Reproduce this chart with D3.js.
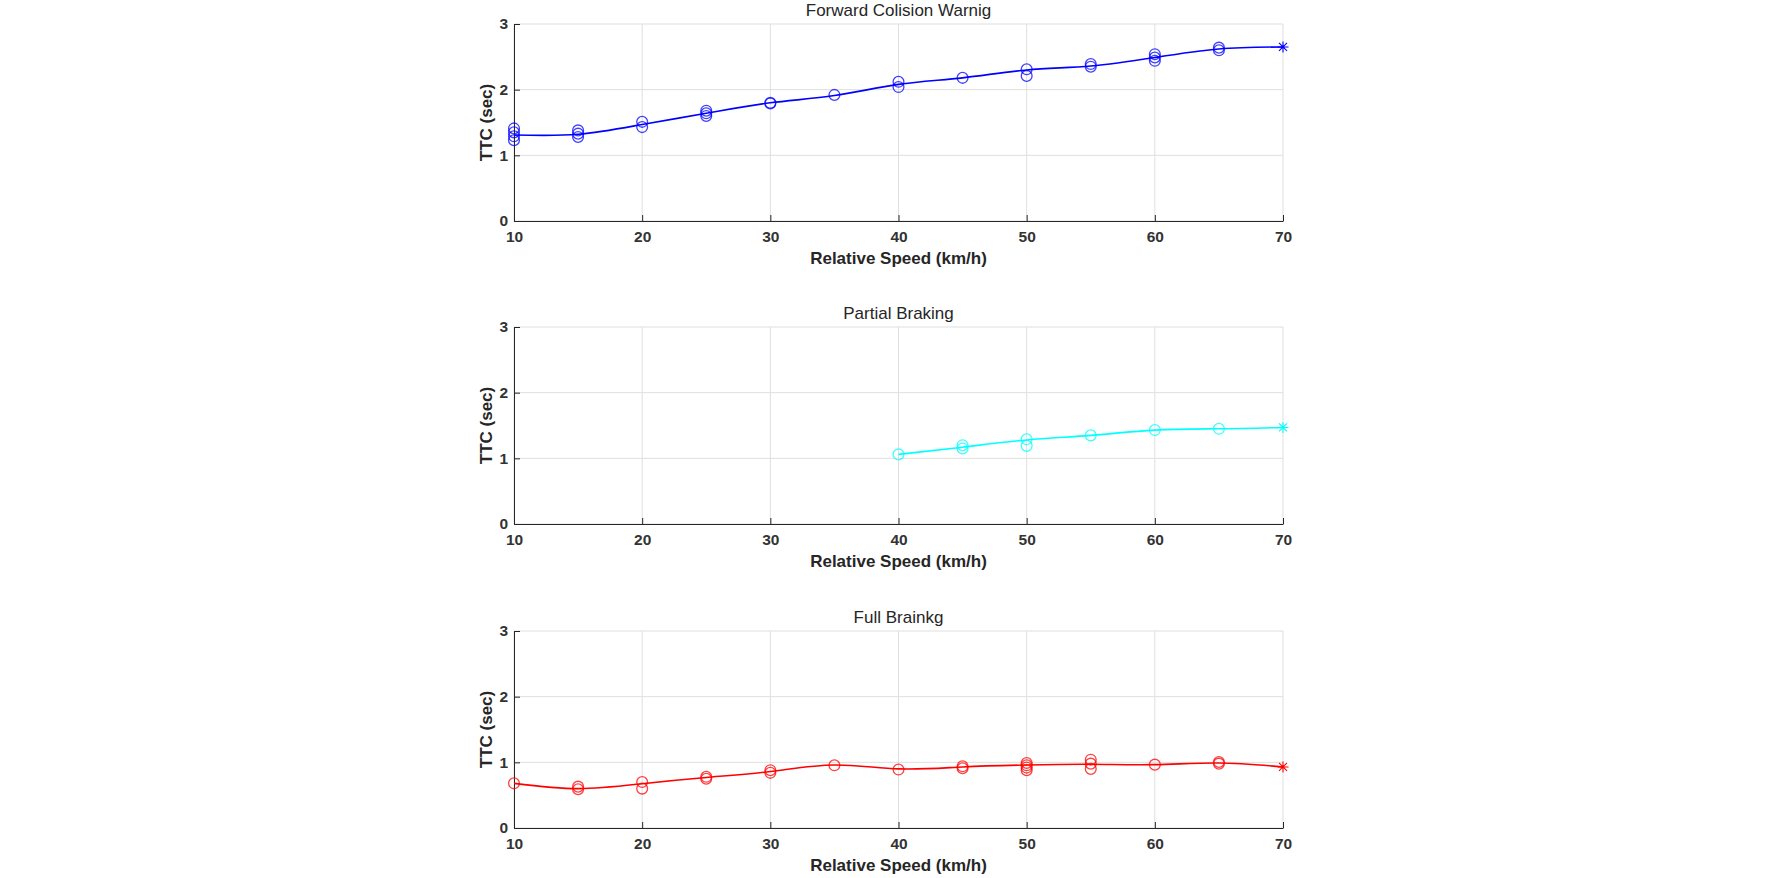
<!DOCTYPE html>
<html>
<head>
<meta charset="utf-8">
<script src="https://cdn.jsdelivr.net/npm/d3@7"></script>
<style>
  body { margin: 0; background: #fff; }
  svg { display: block; font-family: Arial, "Liberation Sans", sans-serif; }
  .grid line { stroke: #dfdfdf; stroke-width: 1; }
  .axis path, .axis line { stroke: #262626; }
  .axis text { fill: #333333; font-size: 15.5px; font-weight: bold; }
</style>
</head>
<body>
<div id="chart"></div>
<script>
// speeds (km/h) used in all three panels
var speeds = [10, 15, 20, 25, 30, 35, 40, 45, 50, 55, 60, 65, 70];
var pbSpeeds = [40, 45, 50, 55, 60, 65, 70];

// fitted curves (last point is the '*' marker)
var fcwCurve = [1.31, 1.32, 1.47, 1.64, 1.80, 1.91, 2.08, 2.18, 2.30, 2.36, 2.49, 2.62, 2.65];
var pbCurve = [1.06, 1.17, 1.28, 1.35, 1.43, 1.45, 1.47];
var fbCurve = [0.68, 0.60, 0.675, 0.77, 0.86, 0.96, 0.90, 0.93, 0.96, 0.97, 0.965, 0.99, 0.93];

// measured TTC samples, one list per speed (circles)
var fcwSamples = [
    [1.41, 1.35, 1.29, 1.23], [1.38, 1.33, 1.28], [1.51, 1.43], [1.68, 1.64, 1.60],
    [1.80, 1.79], [1.92], [2.12, 2.04], [2.18], [2.31, 2.21], [2.39, 2.35],
    [2.54, 2.49, 2.44], [2.64, 2.60]
];
var pbSamples = [
    [1.06], [1.20, 1.15], [1.29, 1.19], [1.35], [1.43], [1.45]
];
var fbSamples = [
    [0.68], [0.63, 0.59], [0.70, 0.60], [0.78, 0.75], [0.88, 0.84], [0.955],
    [0.89], [0.94, 0.91], [0.99, 0.955, 0.92, 0.88], [1.04, 0.98, 0.90],
    [0.965], [1.005, 0.98]
];

var xTicks = [10, 20, 30, 40, 50, 60, 70];
var yTicks = [0, 1, 2, 3];

var titles = ['Forward Colision Warnig', 'Partial Braking', 'Full Brainkg'];
var xLabel = 'Relative Speed (km/h)';
var yLabel = 'TTC (sec)';

dim = {
    'width': 1772,
    'height': 878,
    'left': 514,
    'right': 1283,
    'plotH': 197,
};
var panelTops = [24, 327, 631];

var panels = [
    {speeds: speeds, curve: fcwCurve, samples: fcwSamples, color: '#0000ff'},
    {speeds: pbSpeeds, curve: pbCurve, samples: pbSamples, color: '#00ffff'},
    {speeds: speeds, curve: fbCurve, samples: fbSamples, color: '#ff0000'},
];

var svg = d3.select('#chart').append('svg')
    .attr('width', dim.width)
    .attr('height', dim.height);

var xScale = d3.scaleLinear()
    .domain([10, 70])
    .range([dim.left, dim.right]);

function drawPanel(p, i) {
    var y0 = panelTops[i];
    var y1 = y0 + dim.plotH;
    var yScale = d3.scaleLinear().domain([0, 3]).range([y1, y0]);
    var g = svg.append('g');

    // grid
    var grid = g.append('g').attr('class', 'grid');
    grid.selectAll('.vx').data(xTicks).enter().append('line')
        .attr('x1', d => xScale(d)).attr('x2', d => xScale(d))
        .attr('y1', y0).attr('y2', y1);
    grid.selectAll('.hy').data(yTicks).enter().append('line')
        .attr('x1', dim.left).attr('x2', dim.right)
        .attr('y1', d => yScale(d)).attr('y2', d => yScale(d));

    // axes, ticks pointing inward like MATLAB
    var xAxis = d3.axisBottom(xScale).tickValues(xTicks).tickFormat(d3.format('d'))
        .tickSizeInner(-6).tickSizeOuter(0).tickPadding(10);
    var yAxis = d3.axisLeft(yScale).tickValues(yTicks).tickFormat(d3.format('d'))
        .tickSizeInner(-6).tickSizeOuter(0).tickPadding(6);
    g.append('g').attr('class', 'axis').attr('transform', `translate(0,${y1})`).call(xAxis);
    g.append('g').attr('class', 'axis').attr('transform', `translate(${dim.left},0)`).call(yAxis);

    // fitted curve
    var line = d3.line()
        .x((d, j) => xScale(p.speeds[j]))
        .y(d => yScale(d))
        .curve(d3.curveNatural);
    g.append('path')
        .datum(p.curve)
        .attr('d', line)
        .attr('fill', 'none')
        .attr('stroke', p.color)
        .attr('stroke-width', 1.6);

    // sample circles
    var pts = [];
    p.samples.forEach((vals, j) => vals.forEach(v => pts.push({x: p.speeds[j], y: v})));
    g.selectAll('circle').data(pts).enter().append('circle')
        .attr('cx', d => xScale(d.x))
        .attr('cy', d => yScale(d.y))
        .attr('r', 5.4)
        .attr('fill', 'none')
        .attr('stroke', p.color)
        .attr('stroke-opacity', 0.75)
        .attr('stroke-width', 1.3);

    // '*' marker at the last speed
    var n = p.curve.length - 1;
    var sx = xScale(p.speeds[n]), sy = yScale(p.curve[n]);
    var star = d3.path();
    var r = 5.5, r2 = 4;
    star.moveTo(sx - r, sy); star.lineTo(sx + r, sy);
    star.moveTo(sx, sy - r); star.lineTo(sx, sy + r);
    star.moveTo(sx - r2, sy - r2); star.lineTo(sx + r2, sy + r2);
    star.moveTo(sx - r2, sy + r2); star.lineTo(sx + r2, sy - r2);
    g.append('path').attr('d', star.toString())
        .attr('stroke', p.color).attr('stroke-width', 1.1).attr('fill', 'none');

    // texts
    g.append('text')
        .attr('x', (dim.left + dim.right) / 2)
        .attr('y', y0 - 8)
        .attr('text-anchor', 'middle')
        .attr('font-size', '17px')
        .attr('fill', '#262626')
        .text(titles[i]);
    g.append('text')
        .attr('x', (dim.left + dim.right) / 2)
        .attr('y', y1 + 43)
        .attr('text-anchor', 'middle')
        .attr('font-size', '17px')
        .attr('font-weight', 'bold')
        .attr('fill', '#262626')
        .text(xLabel);
    g.append('text')
        .attr('transform', `translate(492,${(y0 + y1) / 2}) rotate(-90)`)
        .attr('text-anchor', 'middle')
        .attr('font-size', '17px')
        .attr('font-weight', 'bold')
        .attr('fill', '#262626')
        .text(yLabel);
}

panels.forEach(drawPanel);
</script>
</body>
</html>
